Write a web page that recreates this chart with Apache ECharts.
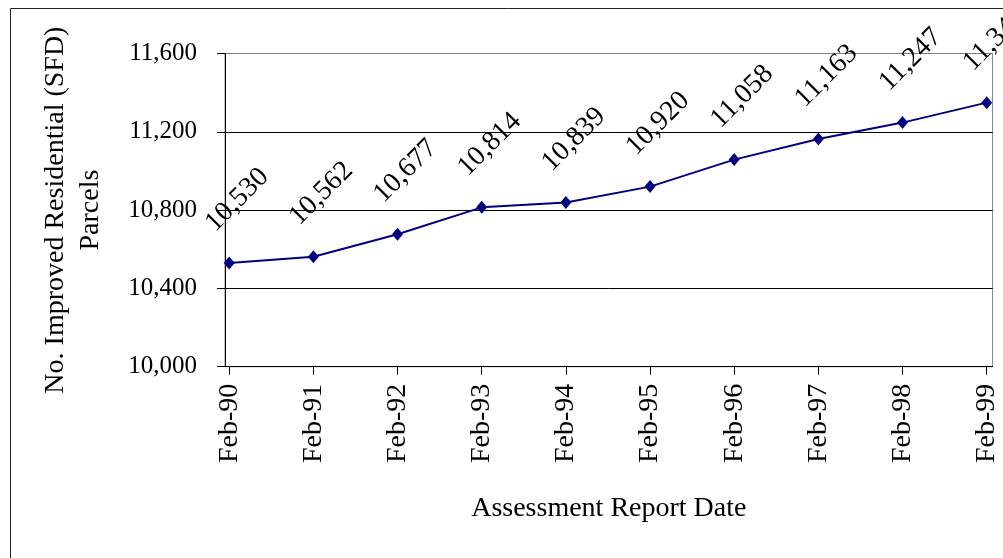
<!DOCTYPE html>
<html>
<head>
<meta charset="utf-8">
<script src="https://cdn.jsdelivr.net/npm/echarts@6/dist/echarts.min.js"></script>
<style>
html,body{margin:0;padding:0;background:#fff;}
#chart{width:1003px;height:558px;}
</style>
</head>
<body>
<div id="chart"></div>
<script>
const categories = ['Feb-90','Feb-91','Feb-92','Feb-93','Feb-94','Feb-95','Feb-96','Feb-97','Feb-98','Feb-99'];
const parcels = [10530, 10562, 10677, 10814, 10839, 10920, 11058, 11163, 11247, 11349];
const yMin = 10000, yMax = 11600, yStep = 400;
const yAxisTitle = 'No. Improved Residential (SFD)\nParcels';
const xAxisTitle = 'Assessment Report Date';

const FONT = "'Liberation Serif', 'Times New Roman', serif";
const idx = categories.map((c, i) => i);

const chart = echarts.init(document.getElementById('chart'), null, {renderer: 'canvas'});
chart.setOption({
  animation: false,
  backgroundColor: '#fff',
  graphic: [{
    type: 'rect', left: 8, top: 6,
    shape: {width: 1100, height: 700},
    style: {fill: 'none', stroke: '#222', lineWidth: 1}
  }],
  grid: {left: 225, top: 53.5, right: 10.4, bottom: 191.3, show: true, borderColor: '#808080', borderWidth: 1, backgroundColor: 'transparent'},
  xAxis: {
    type: 'value', min: -0.05, max: 9.07,
    splitLine: {show: false},
    axisLine: {onZero: false, lineStyle: {color: '#000', width: 1}},
    axisTick: {show: true, length: 8, inside: false, customValues: idx, lineStyle: {color: '#000'}},
    axisLabel: {
      customValues: idx, rotate: 90, margin: 17, color: '#000',
      fontFamily: FONT, fontSize: 28,
      formatter: v => categories[Math.round(v)] || ''
    },
    name: xAxisTitle, nameLocation: 'middle', nameGap: 128,
    nameTextStyle: {fontFamily: FONT, fontSize: 28, color: '#000'}
  },
  yAxis: {
    type: 'value', min: yMin, max: yMax, interval: yStep,
    axisLine: {show: true, onZero: false, lineStyle: {color: '#000', width: 1}},
    axisTick: {show: true, length: 8, lineStyle: {color: '#000'}},
    splitLine: {show: true, lineStyle: {color: ['#000','#000','#000','#000','#808080'], width: 1}},
    axisLabel: {
      margin: 28, color: '#000', fontFamily: FONT, fontSize: 25,
      formatter: v => v.toLocaleString('en-US')
    },
    name: yAxisTitle, nameLocation: 'middle', nameGap: 117, nameRotate: 90,
    nameTextStyle: {fontFamily: FONT, fontSize: 28, color: '#000', lineHeight: 35}
  },
  series: [{
    type: 'line',
    data: parcels.map((v, i) => [i, v]),
    symbol: 'diamond', symbolSize: [11, 13],
    lineStyle: {color: '#000080', width: 2},
    itemStyle: {color: '#000080'},
    label: {
      show: true, position: [13.5, -56.5], rotate: 45,
      align: 'center', verticalAlign: 'middle',
      fontFamily: FONT, fontSize: 28, color: '#000',
      formatter: p => p.value[1].toLocaleString('en-US')
    },
    clip: false
  }]
});
</script>
</body>
</html>
